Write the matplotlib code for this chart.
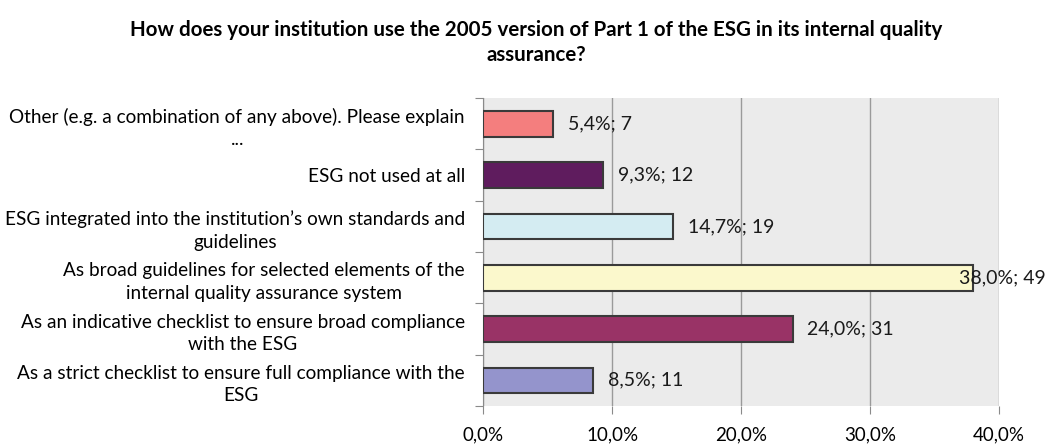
import numpy as np
import matplotlib.pyplot as plt

plt.rcParams['font.family'] = ['Lato', 'DejaVu Sans']

categories = [
    "As a strict checklist to ensure full compliance with the\nESG",
    "As an indicative checklist to ensure broad compliance\nwith the ESG",
    "As broad guidelines for selected elements of the\ninternal quality assurance system",
    "ESG integrated into the institution\u2019s own standards and\nguidelines",
    "ESG not used at all",
    "Other (e.g. a combination of any above). Please explain\n...",
]
percent = [8.5, 24.0, 38.0, 14.7, 9.3, 5.4]
counts = [11, 31, 49, 19, 12, 7]
colors = ['#9494cc', '#993366', '#fbf8cc', '#d4ecf2', '#5f1c5e', '#f47e7e']

fig = plt.figure(figsize=(10.48, 4.45), dpi=100)
ax = fig.add_axes([0.4609, 0.0876, 0.4924, 0.692])

y = np.arange(len(categories))
ax.barh(y, percent, height=0.5, color=colors, edgecolor='#3a3a3a', linewidth=1.5, zorder=3)

for yi, p, c in zip(y, percent, counts):
    txt = f"{p:.1f}".replace('.', ',') + f"%; {c}"
    x = min(p + 1.15, 36.9)
    ax.text(x, yi, txt, va='center', ha='left', fontsize=14, color='#1a1a1a', zorder=4)

ax.set_xlim(0, 40)
ax.set_ylim(-0.5, len(categories) - 0.5)
ax.set_facecolor('#ebebeb')
ax.set_xticks([0, 10, 20, 30, 40])
ax.set_xticklabels(['0,0%', '10,0%', '20,0%', '30,0%', '40,0%'], fontsize=13.5)
ax.xaxis.grid(True, color='#9a9a9a', linewidth=1, zorder=1)
ax.set_axisbelow(True)

# category names between outward ticks on the boundaries
ax.set_yticks(np.arange(-0.5, len(categories), 1.0))
ax.set_yticklabels([])
ax.set_yticks(y, minor=True)
ax.set_yticklabels(categories, minor=True, fontsize=13.7, ha='right',
                   multialignment='center', linespacing=1.4)
ax.tick_params(axis='y', which='minor', length=0, pad=13)
ax.tick_params(axis='y', which='major', length=6, color='#8a8a8a', direction='out')
ax.tick_params(axis='x', length=6, color='#8a8a8a', direction='out', pad=9)

for s in ['top', 'right', 'bottom']:
    ax.spines[s].set_visible(False)
ax.spines['left'].set_color('#8a8a8a')

fig.text(0.512, 0.905, "How does your institution use the 2005 version of Part 1 of the ESG in its internal quality\nassurance?",
         ha='center', va='center', fontsize=14.8, fontweight='bold', linespacing=1.3)

fig.savefig('out.png', dpi=100, facecolor='white')
